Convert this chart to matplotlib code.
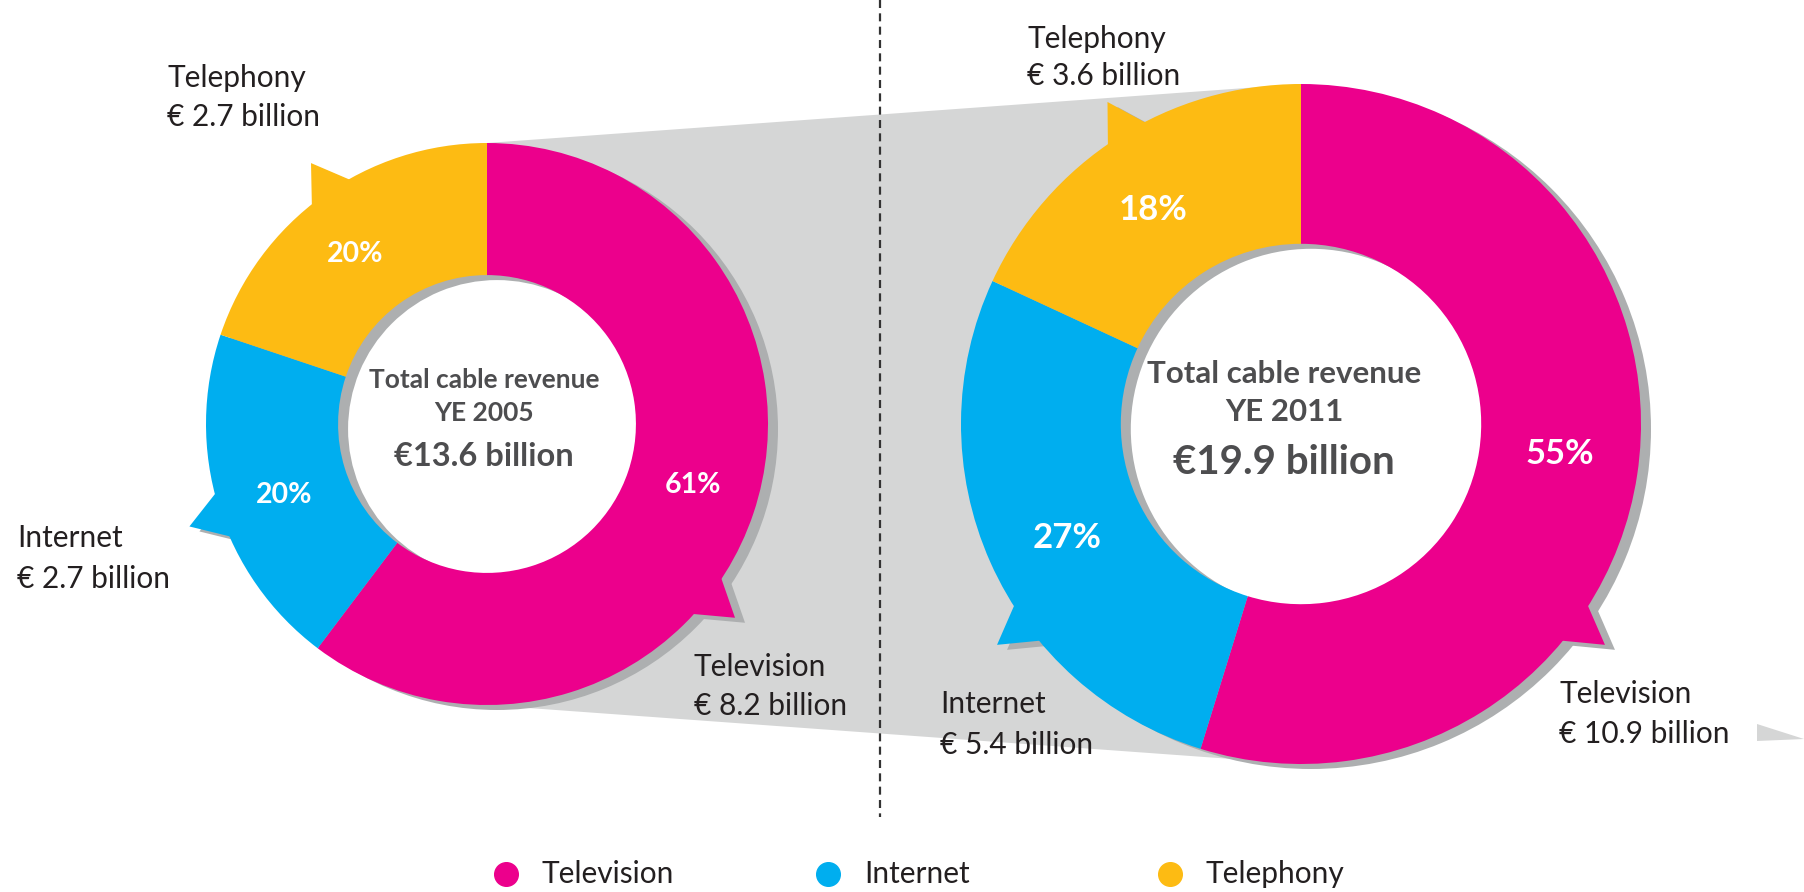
import numpy as np
import matplotlib.pyplot as plt
from matplotlib.patches import Polygon, Circle, Wedge

# data
categories = ['Television', 'Internet', 'Telephony']
colors = ['#EC008C', '#00AEEF', '#FDBB13']

revenue_2005 = [8.2, 2.7, 2.7]
pct_2005 = [61, 20, 20]
total_2005 = 13.6

revenue_2011 = [10.9, 5.4, 3.6]
pct_2011 = [55, 27, 18]
total_2011 = 19.9

W, H = 1804, 892
FUNNEL = '#d5d6d6'
SHADOW = '#adafb0'
TXT = '#231f20'
CTXT = '#4d4d4f'
FONT = 'Lato'
LABEL_FS = 21.5

fig = plt.figure(figsize=(W / 100, H / 100), dpi=100)
ax = fig.add_axes([0, 0, 1, 1])


def pt(cx, cy, r, a):
    # a: degrees clockwise from 12 o'clock
    t = np.radians(90 - a)
    return cx + r * np.cos(t), cy + r * np.sin(t)


def donut(cx, cy, r, values, pcts, spikes, half, tip, pct_fs):
    ratio = 0.53
    off = (10, -5)
    # white hole, then shadow ring
    ax.add_patch(Circle((cx, cy), r * ratio, color='white', zorder=2))
    ax.add_patch(Wedge((cx + off[0], cy + off[1]), r, 0, 360,
                       width=r * (1 - ratio), color=SHADOW, lw=0, zorder=3))
    wedges, _ = ax.pie(values, colors=colors, startangle=90, counterclock=False,
                       center=(cx, cy), radius=r, frame=True,
                       wedgeprops=dict(width=r * (1 - ratio), lw=0))
    for w in wedges:
        w.set_zorder(5)
    for w, a, p in zip(wedges, spikes, pcts):
        pts = [pt(cx, cy, r * 0.99, a - half), pt(cx, cy, r * tip, a),
               pt(cx, cy, r * 0.99, a + half)]
        sh = [(x + off[0], y + off[1]) for x, y in pts]
        ax.add_patch(Polygon(sh, closed=True, color=SHADOW, lw=0, zorder=3))
        ax.add_patch(Polygon(pts, closed=True, color=w.get_facecolor(), lw=0, zorder=5))
        mid = (w.theta1 + w.theta2) / 2 + 2
        rm = r * (1 + ratio) / 2
        x, y = cx + rm * np.cos(np.radians(mid)), cy + rm * np.sin(np.radians(mid))
        ax.text(x, y, f'{p}%', color='white', fontsize=pct_fs, fontweight='bold',
                ha='center', va='center', family=FONT, zorder=6)


lc = (487, H - 424, 281)
rc = (1301, H - 424, 340)

# funnel between the two donuts
ax.add_patch(Polygon([(lc[0], lc[1] + lc[2]), (rc[0], rc[1] + rc[2]),
                      (rc[0], rc[1] - rc[2]), (lc[0], lc[1] - lc[2])],
                     closed=True, color=FUNNEL, lw=0, zorder=1))
ax.add_patch(Polygon([(1757, H - 724), (1804, H - 739), (1757, H - 741)],
                     closed=True, color=FUNNEL, lw=0, zorder=1))

donut(*lc, revenue_2005, pct_2005, [128, 251, 326], 5.0, 1.12, 20.5)
donut(*rc, revenue_2011, pct_2011, [126, 234, 329], 4.0, 1.105, 25)

# divider
ax.plot([880, 880], [H, H - 817], color='#333333', lw=1.6,
        linestyle=(0, (3.6, 2.4)), zorder=4)

# center text
ax.text(484, H - 380, 'Total cable revenue', ha='center', va='center',
        fontsize=19, fontweight='bold', color=CTXT, family=FONT, zorder=6)
ax.text(484, H - 413, 'YE 2005', ha='center', va='center',
        fontsize=19, fontweight='bold', color=CTXT, family=FONT, zorder=6)
ax.text(484, H - 456, f'€{total_2005} billion', ha='center', va='center',
        fontsize=23.5, fontweight='bold', color=CTXT, family=FONT, zorder=6)
ax.text(1284, H - 374, 'Total cable revenue', ha='center', va='center',
        fontsize=22.5, fontweight='bold', color=CTXT, family=FONT, zorder=6)
ax.text(1284, H - 412, 'YE 2011', ha='center', va='center',
        fontsize=22.5, fontweight='bold', color=CTXT, family=FONT, zorder=6)
ax.text(1284, H - 463, f'€{total_2011} billion', ha='center', va='center',
        fontsize=29, fontweight='bold', color=CTXT, family=FONT, zorder=6)

# outside labels: (x, y line1, y line2)
pos_2005 = [(694, 667, 706), (17, 538, 579), (167, 78, 117)]
pos_2011 = [(1559, 694, 734), (940, 704, 745), (1027, 39, 76)]
for vals, pos in [(revenue_2005, pos_2005), (revenue_2011, pos_2011)]:
    for cat, v, (x, y1, y2) in zip(categories, vals, pos):
        ax.text(x, H - y1, cat, ha='left', va='center', fontsize=LABEL_FS,
                color=TXT, family=FONT, zorder=6)
        ax.text(x, H - y2, f'€ {v} billion', ha='left', va='center',
                fontsize=LABEL_FS, color=TXT, family=FONT, zorder=6)

# legend
for cat, c, x in zip(categories, colors, [506, 828, 1170]):
    ax.plot(x, H - 874, 'o', ms=17, color=c, zorder=6)
    ax.text(x + 36, H - 874, cat, ha='left', va='center', fontsize=LABEL_FS,
            color=TXT, family=FONT, zorder=6)

ax.set_xlim(0, W)
ax.set_ylim(0, H)
ax.set_aspect('equal')
ax.axis('off')
fig.savefig('out.png', dpi=100)
